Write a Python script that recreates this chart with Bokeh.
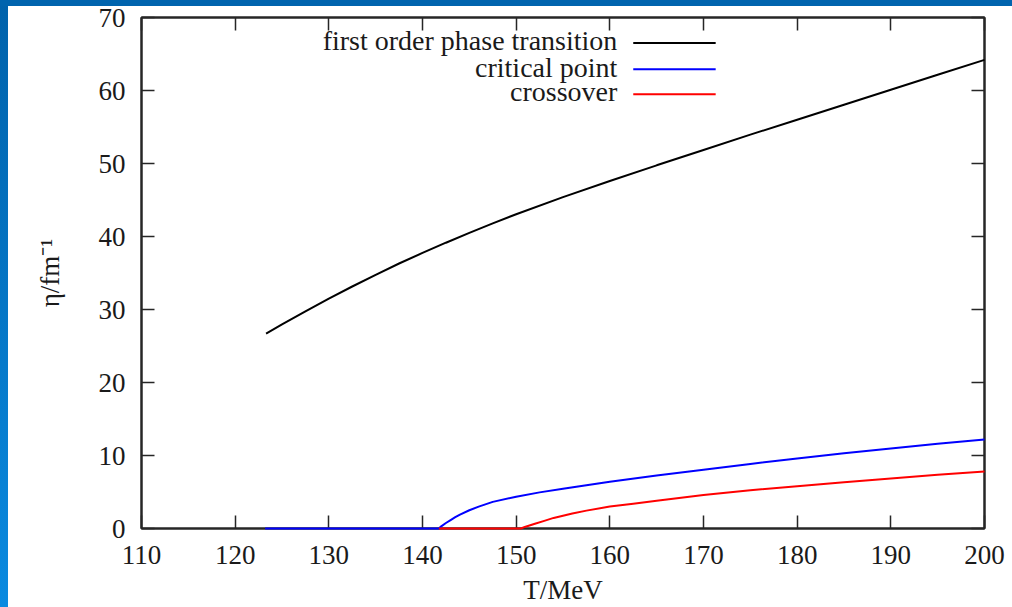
from bokeh.plotting import figure
from bokeh.models import Range1d, LinearAxis, FixedTicker, Label, Arrow
from bokeh.embed import file_html
from bokeh.resources import INLINE

# ---- data ----
T_first = [123.3, 125, 127.5, 130, 132.5, 135, 137.5, 140, 142.5, 145, 147.5, 150,
           155, 160, 165, 170, 175, 180, 185, 190, 195, 200]
eta_first = [26.7, 27.95, 29.75, 31.5, 33.15, 34.75, 36.3, 37.75, 39.15, 40.5, 41.8, 43.05,
             45.4, 47.6, 49.75, 51.85, 53.95, 56.0, 58.05, 60.1, 62.15, 64.2]

T_crit = [123.2, 141.75, 142, 142.5, 143, 143.5, 144, 145, 146, 147.5, 150, 152.5, 155,
          157.5, 160, 165, 170, 175, 180, 185, 190, 195, 200]
eta_crit = [0, 0, 0.3, 0.75, 1.15, 1.55, 1.9, 2.5, 3.0, 3.65, 4.35, 4.95, 5.45,
            5.93, 6.4, 7.25, 8.05, 8.85, 9.6, 10.3, 10.95, 11.6, 12.2]

T_cross = [141.75, 150.5, 151, 152, 153, 154, 155, 156, 157.5, 160, 162.5, 165,
           170, 175, 180, 185, 190, 195, 200]
eta_cross = [0, 0, 0.25, 0.65, 1.05, 1.45, 1.75, 2.05, 2.45, 3.0, 3.4, 3.8,
             4.6, 5.25, 5.8, 6.35, 6.85, 7.35, 7.8]

series_names = ["first order phase transition", "critical point", "crossover"]
series_colors = ["#000000", "#0000ff", "#ff0000"]

x_ticks = [110, 120, 130, 140, 150, 160, 170, 180, 190, 200]
y_ticks = [0, 10, 20, 30, 40, 50, 60, 70]

FONT = "Liberation Serif"
TXT = "#1a1a1a"
AX = "#262626"

p = figure(width=1012, height=607, output_backend="svg", toolbar_location=None,
           x_range=Range1d(110, 200), y_range=Range1d(0, 70),
           x_axis_location=None, y_axis_location=None,
           min_border_left=141, min_border_right=28, min_border_top=17, min_border_bottom=78,
           background_fill_color="white", border_fill_color=None)
# slide-style blue strips on the top and left edges, white elsewhere
p.styles = {"background": "linear-gradient(#0064ae, #0064ae) 0 0 / 100% 6px no-repeat, "
                          "linear-gradient(180deg, #0062ab, #0a8ae0) 0 0 / 8px 100% no-repeat, #ffffff"}
p.grid.visible = False
p.outline_line_color = AX
p.outline_line_width = 2


def make_axis(ticks, label=None, show_labels=True):
    ax = LinearAxis(ticker=FixedTicker(ticks=ticks))
    ax.major_tick_in = 13
    ax.major_tick_out = 0
    ax.minor_tick_line_color = None
    ax.major_tick_line_color = AX
    ax.major_tick_line_width = 1.5
    ax.axis_line_color = AX
    ax.axis_line_width = 2
    ax.major_label_text_font = FONT
    ax.major_label_text_font_size = "27px"
    if show_labels:
        ax.major_label_text_color = TXT
    else:
        ax.major_label_text_color = None
        ax.major_label_standoff = 0
    if label:
        ax.axis_label = label
        ax.axis_label_text_font = FONT
        ax.axis_label_text_font_size = "27px"
        ax.axis_label_text_font_style = "normal"
        ax.axis_label_text_color = TXT
    return ax


xb = make_axis(x_ticks, "T/MeV")
xb.major_label_standoff = 17
xb.axis_label_standoff = 8
p.add_layout(xb, "below")

yl = make_axis(y_ticks, "η/fm⁻¹")
yl.major_label_standoff = 16
yl.axis_label_standoff = 31
p.add_layout(yl, "left")

p.add_layout(make_axis(x_ticks, show_labels=False), "above")
p.add_layout(make_axis(y_ticks, show_labels=False), "right")

# curves drawn above the axes so the flat parts on the zero line stay visible
p.line(T_first, eta_first, line_color=series_colors[0], line_width=2, level="overlay")
p.line(T_crit, eta_crit, line_color=series_colors[1], line_width=2, level="overlay")
p.line(T_cross, eta_cross, line_color=series_colors[2], line_width=2, level="overlay")

# legend, gnuplot style: text on the left, line sample on the right
legend_y = [66.5, 62.9, 59.5]
for name, col, ly in zip(series_names, series_colors, legend_y):
    p.add_layout(Label(x=160.8, y=ly + 0.3, text=name, text_align="right", text_baseline="middle",
                       text_font=FONT, text_font_size="28px", text_color=TXT))
    p.add_layout(Arrow(end=None, x_start=162.5, y_start=ly, x_end=171.3, y_end=ly,
                       line_color=col, line_width=2))

open("out.html", "w").write(file_html(p, INLINE))
